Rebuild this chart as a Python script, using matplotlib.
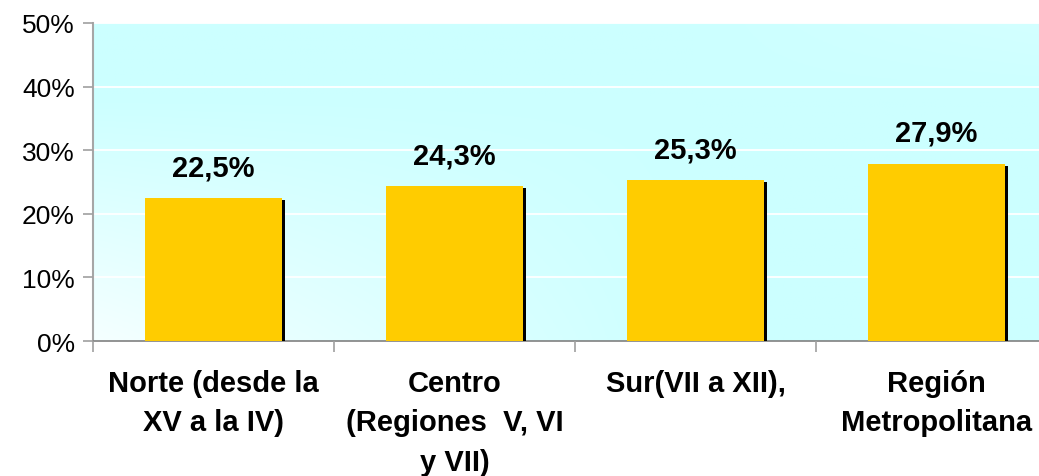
import matplotlib
matplotlib.use("Agg")
import matplotlib.pyplot as plt
import matplotlib.patheffects as pe
import numpy as np

categories = ["Norte (desde la\nXV a la IV)",
              "Centro\n(Regiones  V, VI\ny VII)",
              "Sur(VII a XII),",
              "Región\nMetropolitana"]
values = [22.5, 24.3, 25.3, 27.9]
value_labels = ["22,5%", "24,3%", "25,3%", "27,9%"]
yticks = [0, 10, 20, 30, 40, 50]
ytick_labels = ["0%", "10%", "20%", "30%", "40%", "50%"]

plt.rcParams['font.family'] = ['Liberation Sans', 'DejaVu Sans']

W, H = 1039, 477
fig = plt.figure(figsize=(W / 100, H / 100), dpi=100)
left, right, top, bottom = 93, 1057, 24, 342
ax = fig.add_axes([left / W, (H - bottom) / H, (right - left) / W, (bottom - top) / H])

n = len(categories)
ax.set_xlim(-0.5, n - 0.5)
ax.set_ylim(0, 50)

# gradient background: white-ish at bottom-left, light cyan elsewhere
gx = np.linspace(0, 1, 300)
gy = np.linspace(0, 1, 150)  # 0 bottom, 1 top
X, Y = np.meshgrid(gx, gy)
f = np.clip((1 - X * 1.6) * (1 - Y * 1.3), 0, 1)
cyan = np.array([204, 255, 255]) / 255
white = np.array([245, 255, 255]) / 255
img = cyan[None, None, :] + f[..., None] * (white - cyan)[None, None, :]
ax.imshow(img, extent=(-0.5, n - 0.5, 0, 50), origin='lower', aspect='auto', zorder=0)

for yv in yticks[1:]:
    ax.axhline(yv, color='white', lw=1.3, zorder=1)

x = np.arange(n)
bars = ax.bar(x, values, width=0.57, color='#FFCC00', zorder=3,
              path_effects=[pe.SimplePatchShadow(offset=(2.2, -1.4), shadow_rgbFace='black', alpha=1.0, rho=0),
                            pe.Normal()])

for xi, v, lab in zip(x, values, value_labels):
    ax.annotate(lab, (xi, v), xytext=(0, 12), textcoords='offset points',
                ha='center', va='bottom', fontsize=21, fontweight='bold', color='black')

ax.set_yticks(yticks)
ax.set_yticklabels(ytick_labels, fontsize=19)
ax.tick_params(axis='y', direction='out', length=7, width=1.2, color='#A0A0A0', pad=6)

ax.set_xticks(np.arange(n) - 0.5)
ax.set_xticklabels([])
ax.tick_params(axis='x', direction='out', length=8, width=1.2, color='#A0A0A0')

for xi, lab in zip(x, categories):
    ax.annotate(lab, (xi, 0), xytext=(0, -20), textcoords='offset points',
                ha='center', va='top', fontsize=21, fontweight='bold',
                linespacing=1.52, annotation_clip=False)

for s in ['top', 'right']:
    ax.spines[s].set_visible(False)
ax.spines['left'].set_color('#A6A6A6')
ax.spines['left'].set_linewidth(1.5)
ax.spines['bottom'].set_color('#808080')
ax.spines['bottom'].set_linewidth(1.2)
ax.set_axisbelow(False)

fig.savefig("out.png", dpi=100)
